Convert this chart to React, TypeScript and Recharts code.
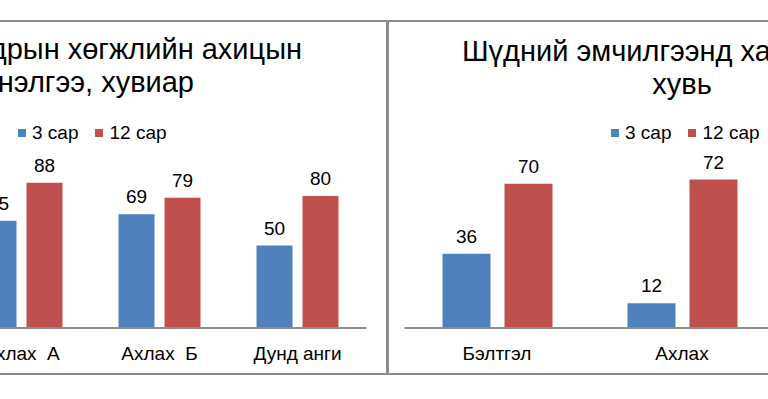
import React from 'react';
import { BarChart, Bar, XAxis, YAxis, LabelList, Legend } from 'recharts';

const leftCategories = ['Ахлах  А', 'Ахлах  Б', 'Дунд анги'];
const leftSar3 = [65, 69, 50];
const leftSar12 = [88, 79, 80];

const rightCategories = ['Бэлтгэл', 'Ахлах'];
const rightSar3 = [36, 12];
const rightSar12 = [70, 72];

const seriesNames = ['3 сар', '12 сар'];
const BLUE = '#4F81BD';
const RED = '#C0504D';
const FONT = '"Liberation Sans", Arial, sans-serif';
const FRAME = '#8c8c8c';

const leftData = leftCategories.map((c, i) => ({ name: c, a: leftSar3[i], b: leftSar12[i] }));
const rightData = rightCategories.map((c, i) => ({ name: c, a: rightSar3[i], b: rightSar12[i] }));

const LegendContent = (props: any) => {
  const payload = [...(props.payload || [])].sort(
    (p: any, q: any) => seriesNames.indexOf(p.value) - seriesNames.indexOf(q.value)
  );
  return (
    <div style={{ display: 'flex', alignItems: 'center', fontFamily: FONT, fontSize: 19, color: '#000', whiteSpace: 'nowrap' }}>
      {payload.map((p: any, i: number) => (
        <div key={i} style={{ display: 'flex', alignItems: 'center', marginRight: 17 }}>
          <div style={{ width: 8, height: 8, background: p.color, marginRight: 6 }} />
          <span>{p.value}</span>
        </div>
      ))}
    </div>
  );
};

const Tick = (props: any) => {
  const { x, y, payload } = props;
  return (
    <text x={x} y={y + 31.5} textAnchor="middle" fontFamily={FONT} fontSize={19} fill="#000" style={{ whiteSpace: 'pre' }}>
      {payload.value}
    </text>
  );
};

const labelStyle = { fontFamily: FONT, fontSize: 19, fill: '#000' };

export default function App() {
  return (
    <div style={{ position: 'absolute', left: 0, top: 0, width: 768, height: 399, overflow: 'hidden', background: '#fff' }}>
      {/* frames */}
      <div style={{ position: 'absolute', left: -20, top: 20, width: 404, height: 351, border: `2px solid ${FRAME}` }} />
      <div style={{ position: 'absolute', left: 387, top: 20, width: 500, height: 351, border: `2px solid ${FRAME}` }} />

      {/* titles */}
      <div style={{ position: 'absolute', right: 768 - 302, top: 33, fontFamily: FONT, fontSize: 29, lineHeight: '33px', whiteSpace: 'nowrap', color: '#000' }}>дрын хөгжлийн ахицын</div>
      <div style={{ position: 'absolute', right: 768 - 194, top: 66, fontFamily: FONT, fontSize: 29, lineHeight: '33px', whiteSpace: 'nowrap', color: '#000' }}>нэлгээ, хувиар</div>
      <div style={{ position: 'absolute', left: 462, top: 34.5, fontFamily: FONT, fontSize: 29, lineHeight: '33px', whiteSpace: 'nowrap', color: '#000' }}>Шүдний эмчилгээнд ха</div>
      <div style={{ position: 'absolute', left: 582, width: 200, textAlign: 'center', top: 67.5, fontFamily: FONT, fontSize: 29, lineHeight: '33px', whiteSpace: 'nowrap', color: '#000' }}>хувь</div>

      <div style={{ position: 'absolute', left: -100, top: 0 }}>
        <BarChart width={486} height={399} data={leftData} margin={{ top: 163, right: 19.5, bottom: 41, left: 52.5 }} barSize={36} barGap={10}>
          <XAxis dataKey="name" height={30} axisLine={{ stroke: FRAME, strokeWidth: 2 }} tickLine={false} tickSize={0} tickMargin={0} tick={<Tick />} interval={0} />
          <YAxis hide domain={[0, 100]} />
          <Legend layout="horizontal" verticalAlign="middle" align="center" wrapperStyle={{ left: 118, top: 122, width: 'auto' }} content={<LegendContent />} />
          <Bar dataKey="a" name={seriesNames[0]} fill={BLUE} isAnimationActive={false}>
            <LabelList dataKey="a" position="top" offset={11} style={labelStyle} />
          </Bar>
          <Bar dataKey="b" name={seriesNames[1]} fill={RED} isAnimationActive={false}>
            <LabelList dataKey="b" position="top" offset={11} style={labelStyle} />
          </Bar>
        </BarChart>
      </div>

      <div style={{ position: 'absolute', left: 387, top: 0 }}>
        <BarChart width={400} height={399} data={rightData} margin={{ top: 163, right: 12.5, bottom: 41, left: 17.5 }} barSize={48} barGap={14}>
          <XAxis dataKey="name" height={30} axisLine={{ stroke: FRAME, strokeWidth: 2 }} tickLine={false} tickSize={0} tickMargin={0} tick={<Tick />} interval={0} />
          <YAxis hide domain={[0, 80]} />
          <Legend layout="horizontal" verticalAlign="middle" align="center" wrapperStyle={{ left: 224, top: 122, width: 'auto' }} content={<LegendContent />} />
          <Bar dataKey="a" name={seriesNames[0]} fill={BLUE} isAnimationActive={false}>
            <LabelList dataKey="a" position="top" offset={11} style={labelStyle} />
          </Bar>
          <Bar dataKey="b" name={seriesNames[1]} fill={RED} isAnimationActive={false}>
            <LabelList dataKey="b" position="top" offset={11} style={labelStyle} />
          </Bar>
        </BarChart>
      </div>
    </div>
  );
}
